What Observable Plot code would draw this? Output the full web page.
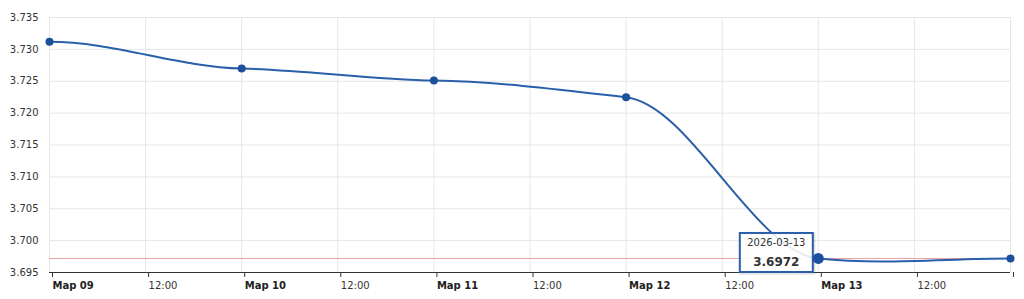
<!DOCTYPE html>
<html>
<head>
<meta charset="utf-8">
<script src="https://cdn.jsdelivr.net/npm/d3@7"></script>
<script src="https://cdn.jsdelivr.net/npm/@observablehq/plot@0.6"></script>
<style>
  html, body { margin: 0; padding: 0; background: #fff; }
  #chart { width: 1024px; height: 299px; overflow: hidden; }
</style>
</head>
<body>
<div id="chart"></div>
<script>
// ---- data ----
const dates = ["2026-03-09", "2026-03-10", "2026-03-11", "2026-03-12", "2026-03-13", "2026-03-14"];
const rates = [3.7312, 3.7270, 3.7251, 3.7225, 3.6972, 3.6972];
const yTicks = [3.695, 3.700, 3.705, 3.710, 3.715, 3.720, 3.725, 3.730, 3.735];
const dayTickLabels = ["Мар 09", "Мар 10", "Мар 11", "Мар 12", "Мар 13", ""];
const halfDayLabel = "12:00";
const referenceRate = 3.6972;
const tooltipDate = "2026-03-13";
const tooltipValue = "3.6972";

// ---- build ----
const parse = s => new Date(s + "T00:00:00Z");
const data = dates.map((d, i) => ({ date: parse(d), rate: rates[i] }));
const dayTicks = dates.map(parse);
const halfTicks = dates.slice(0, -1).map(d => new Date(parse(d).getTime() + 12 * 3600 * 1000));
const dayLabelMap = new Map(dayTicks.map((d, i) => [d.getTime(), dayTickLabels[i]]));
const allTicks = [...dayTicks, ...halfTicks];
const tipDate = parse(tooltipDate);
const tipRate = rates[dates.indexOf(tooltipDate)];

// Hermite spline with damped Catmull-Rom slopes, flat at the ends
function softSpline(context) {
  let pts = [];
  const damp = 0.25;
  return {
    lineStart() { pts = []; },
    lineEnd() {
      const n = pts.length;
      if (!n) return;
      const m = pts.map((p, i) => {
        if (i === 0 || i === n - 1) return 0;
        return damp * (pts[i + 1][1] - pts[i - 1][1]) / (pts[i + 1][0] - pts[i - 1][0]);
      });
      context.moveTo(pts[0][0], pts[0][1]);
      for (let i = 1; i < n; i++) {
        const [x0, y0] = pts[i - 1], [x1, y1] = pts[i];
        const h = (x1 - x0) / 3;
        context.bezierCurveTo(x0 + h, y0 + m[i - 1] * h, x1 - h, y1 - m[i] * h, x1, y1);
      }
    },
    point(x, y) { pts.push([+x, +y]); },
    areaStart() {}, areaEnd() {}
  };
}

function tooltipMark(index, scales) {
  const px = scales.x(tipDate), py = scales.y(tipRate);
  const w = 73, h = 39;
  const x0 = px - 5 - w, y0 = py - 25;
  const g = d3.create("svg:g");
  g.append("rect").attr("x", x0 + 1).attr("y", y0 + 1).attr("width", w).attr("height", h)
    .attr("fill", "none").attr("stroke", "rgba(0,0,0,0.12)").attr("stroke-width", 3);
  g.append("rect").attr("x", x0).attr("y", y0).attr("width", w).attr("height", h)
    .attr("fill", "rgba(255,255,255,0.88)").attr("stroke", "#2b5ea8").attr("stroke-width", 2);
  g.append("text").attr("x", x0 + w / 2).attr("y", y0 + 10).attr("dy", "0.35em")
    .attr("text-anchor", "middle").attr("fill", "#333").style("font-size", "10px")
    .text(tooltipDate);
  g.append("text").attr("x", x0 + w / 2).attr("y", y0 + 29).attr("dy", "0.35em")
    .attr("text-anchor", "middle").attr("fill", "#333").style("font-size", "12px")
    .style("font-weight", "bold").text(tooltipValue);
  return g.node();
}

const chart = Plot.plot({
  width: 1024,
  height: 299,
  marginLeft: 49,
  marginRight: 14,
  marginTop: 17,
  marginBottom: 27,
  style: { fontFamily: "'DejaVu Sans', Verdana, sans-serif", fontSize: "10px", color: "#333", background: "#fff" },
  x: { type: "utc", domain: [dayTicks[0], dayTicks[dayTicks.length - 1]] },
  y: { domain: [yTicks[0], yTicks[yTicks.length - 1]] },
  marks: [
    Plot.gridX(allTicks, { stroke: "#e6e6e6", strokeOpacity: 1 }),
    Plot.gridY(yTicks, { stroke: "#e6e6e6", strokeOpacity: 1 }),
    Plot.ruleY([referenceRate], { stroke: "#e9a3a3", strokeWidth: 1 }),
    Plot.ruleY([yTicks[0]], { stroke: "#333", strokeWidth: 1.2 }),
    Plot.axisY(yTicks, { tickSize: 0, tickPadding: 11, tickFormat: d3.format(".3f"), label: null, fill: "#333" }),
    Plot.axisX(dayTicks, { tickSize: 5, tickPadding: 4, textAnchor: "start", dx: 3, fontWeight: "bold",
      tickFormat: d => dayLabelMap.get(d.getTime()), label: null, stroke: "#333", fill: "#222" }),
    Plot.axisX(halfTicks, { tickSize: 5, tickPadding: 4, textAnchor: "start", dx: 3,
      tickFormat: () => halfDayLabel, label: null, stroke: "#333", fill: "#333" }),
    Plot.line(data, { x: "date", y: "rate", curve: softSpline, stroke: "#2a5fa9", strokeWidth: 2 }),
    Plot.dot(data, { x: "date", y: "rate", r: 4, fill: "#1c4f9e" }),
    tooltipMark,
    Plot.dot(data.filter(d => d.date.getTime() === tipDate.getTime()), { x: "date", y: "rate", r: 5.5, fill: "#1c4f9e" })
  ]
});
document.getElementById("chart").append(chart);
</script>
</body>
</html>
